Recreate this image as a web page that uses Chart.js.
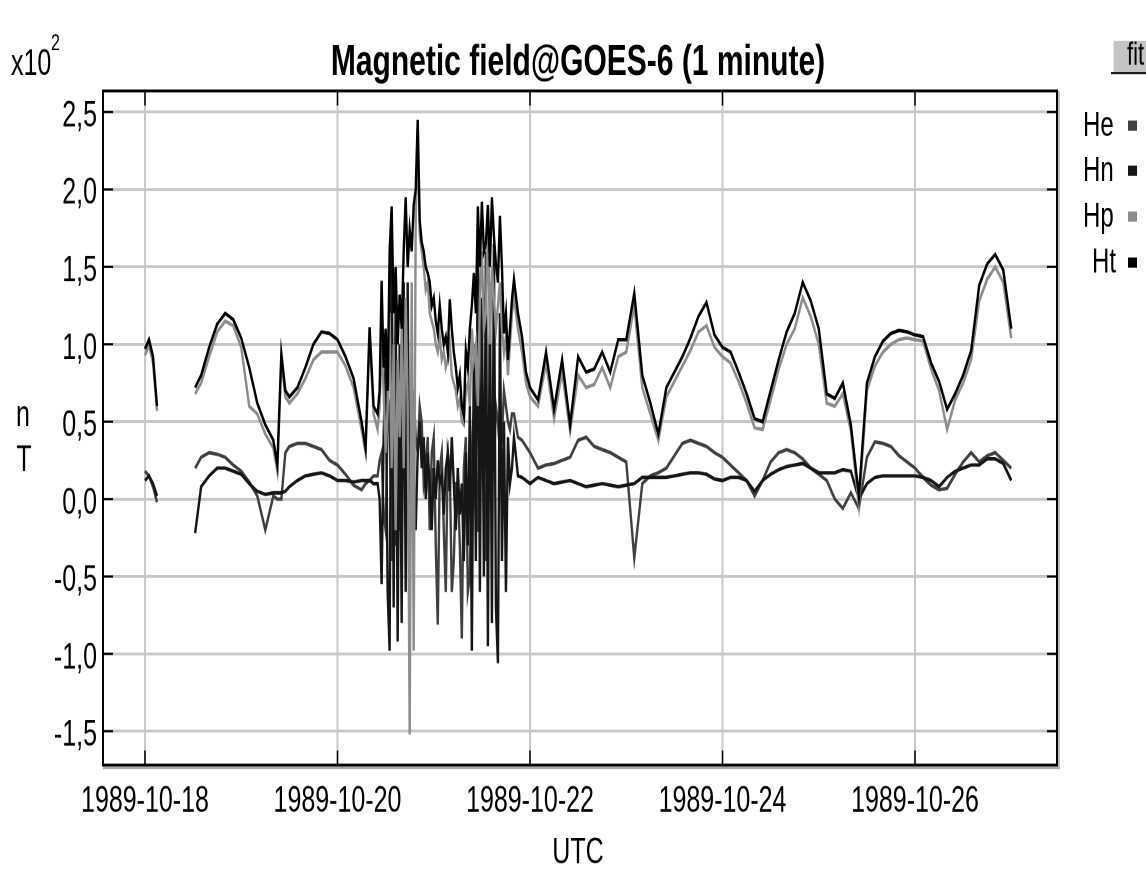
<!DOCTYPE html>
<html>
<head>
<meta charset="utf-8">
<title>Magnetic field@GOES-6 (1 minute)</title>
<script src="https://cdn.jsdelivr.net/npm/chart.js@4.4.1/dist/chart.umd.min.js"></script>
<style>
  html, body { margin: 0; padding: 0; background: #fff; }
  #pagina { width: 1146px; height: 872px; overflow: hidden; position: relative; }
  #wrap { position: absolute; left: 0; top: 0; width: 1146px; height: 600px; transform: scaleY(1.45333); transform-origin: 0 0; }
</style>
</head>
<body>
<div id="pagina"><div id="wrap"><canvas id="graf" width="1146" height="600"></canvas></div></div>
<script>

// horas desde 1989-10-18 00:00 UTC (null = falha nos dados)
var horas = [0, 1, 2, 3, 8, 12.5, 14, 16, 18, 20, 22, 24, 26, 28, 30, 32, 33, 34, 35,
    36, 38, 40, 42, 44, 46, 48, 50, 52, 54, 55, 56, 57,
    58, 58.5, 59, 59.5, 60, 60.5, 61, 61.5, 62, 62.5, 63, 63.5, 64, 64.5, 65, 65.5, 66, 66.5, 67, 67.5,
    68, 68.5, 69, 69.5, 70, 70.5, 71, 71.5, 72, 72.5, 73, 73.5, 74, 74.5, 75, 75.5, 76, 76.5, 77, 77.5,
    78, 78.5, 79, 79.5, 80, 80.5, 81, 81.5, 82, 82.5, 83, 83.5, 84, 84.5, 85, 85.5, 86, 86.5, 87, 87.5,
    88, 88.5, 89, 89.5, 90, 90.5, 91, 91.5, 92, 93, 94, 95, 96,
    98, 100, 102, 104, 106, 108, 110, 112, 114, 116, 118, 120, 122, 124, 126, 128, 130,
    132, 134, 136, 138, 140, 142, 144, 146, 148, 150, 152, 154, 156, 158, 160, 162, 164,
    166, 168, 170, 172, 174, 176, 178, 180, 182, 184, 186, 188, 190, 192, 194, 196, 198,
    200, 202, 204, 206, 208, 210, 212, 214, 216]

// nT
var he = [18, 15, 8, -2, null, 20, 27, 30, 29, 27, 22, 18, 11, 2, -20, 2, 0, 0, 30,
    34, 36, 36, 34, 32, 25, 22, 16, 9, 6, 10, 12, 15,
    15, 25, 30, -10, -20, 50, 60, -40, 70, -30, 60, -20, 40, 80, 90, -10, 50, 20, 70, 40,
    30, 60, 50, 10, 20, 40, -20, 30, 40, -30, -81, 20, 30, -20, -60, 30, 20, -60, -40, 10,
    10, -30, -90, 20, 40, -60, -50, 30, 60, -20, -20, 50, 80, 30, -40, 40, 60, 20, 20, 60,
    50, 30, 40, 70, 60, 50, 45, 55, 55, 40, 38, 34, 30,
    20, 22, 23, 25, 27, 38, 40, 34, 32, 30, 27, 24, -38, 10, 15, 17, 20,
    28, 36, 38, 36, 34, 30, 27, 22, 17, 12, 2, 12, 24, 30, 32, 30, 26,
    20, 16, 12, 0, -6, 4, -6, 27, 37, 36, 34, 28, 24, 20, 14, 9, 6,
    7, 16, 24, 30, 24, 28, 30, 25, 20]

var hn = [12, 15, 10, 2, null, -22, 8, 15, 20, 20, 18, 16, 10, 5, 3, 4, 4, 4, 5,
    8, 12, 15, 16, 17, 15, 12, 12, 11, 12, 12, 12, 10,
    10, 0, -55, 40, 90, -60, -98, 180, -70, 130, -92, 100, -80, 140, -60, 140, -40, 60, 10, -20,
    30, 50, 20, 40, 0, 30, 10, -20, 20, 0, 25, 10, 15, -10, 20, 30, 5, 40, 10, -20,
    20, -10, 10, -40, 30, -30, 60, -98, 100, -40, 180, -60, 130, -50, 160, -95, 140, -80, 165, -70,
    -106, 120, -40, 50, -60, 40, 10, 20, 40, 15, 14, 12, 10,
    14, 12, 10, 11, 12, 10, 8, 9, 10, 9, 8, 9, 10, 14, 14, 14, 14,
    15, 16, 17, 17, 16, 13, 12, 14, 14, 12, 5, 12, 16, 19, 21, 22, 23,
    20, 17, 17, 17, 19, 18, 0, 10, 14, 15, 15, 15, 15, 15, 14, 12, 8,
    14, 18, 20, 22, 22, 26, 26, 23, 12]

var hp = [93, 99, 88, 57, null, 68, 75, 92, 108, 115, 112, 98, 60, 55, 42, 33, 18, 90, 66,
    62, 68, 78, 90, 95, 95, 95, 86, 72, 45, 30, 105, 55,
    45, 60, 100, 70, 30, 60, 120, 20, 100, -20, 90, 40, 110, 20, 130, 60, -152, 140, -98, 180,
    242, 170, 160, 150, 135, 140, 120, 115, 110, 100, 95, 105, 90, 95, 85, 90, 100, 80, 75, 70,
    60, 65, 50, 48, 70, 75, 60, 110, 90, 100, 60, 130, 160, 110, 120, 185, 100, 150, 130, 110,
    125, 140, 110, 95, 105, 80, 100, 120, 130, 110, 95, 75, 66,
    60, 88, 52, 82, 44, 80, 72, 74, 85, 72, 92, 95, 125, 72, 55, 38, 66,
    76, 86, 96, 108, 112, 98, 92, 88, 76, 62, 46, 45, 64, 84, 100, 110, 130,
    118, 100, 62, 60, 68, 44, -4, 70, 86, 95, 100, 103, 104, 103, 102, 84, 70,
    45, 64, 75, 90, 128, 142, 150, 140, 104]

var ht = [97, 103, 92, 60, null, 72, 80, 98, 113, 120, 116, 104, 85, 62, 48, 38, 22, 94, 70,
    66, 72, 85, 100, 108, 107, 103, 92, 78, 50, 33, 111, 60,
    55, 70, 141, 85, 110, 70, 160, 189, 120, 150, 100, 132, 110, 160, 195, 150, 174, 160, 190, 200,
    245, 180, 166, 160, 150, 146, 140, 125, 130, 115, 107, 125, 110, 100, 105, 95, 129, 110, 95, 85,
    72, 80, 60, 54, 96, 85, 110, 125, 146, 120, 189, 150, 192, 160, 165, 190, 150, 195, 170, 152,
    140, 183, 150, 107, 120, 90, 110, 129, 142, 120, 105, 82, 72,
    64, 95, 58, 90, 48, 92, 82, 84, 95, 82, 103, 103, 133, 80, 62, 42, 72,
    82, 92, 104, 118, 127, 106, 98, 95, 82, 68, 52, 50, 70, 90, 108, 120, 140,
    128, 110, 68, 65, 75, 48, 2, 75, 92, 102, 107, 109, 108, 106, 105, 88, 76,
    58, 68, 80, 96, 138, 152, 158, 148, 110]

var ticksX = [0, 48, 96, 144, 192]
var ticksY = [-150, -100, -50, 0, 50, 100, 150, 200, 250]

var nomes = ['He', 'Hn', 'Hp', 'Ht']
var cores = ['#404040', '#161616', '#8c8c8c', '#000000']

var fonte = "'Liberation Sans', Arial, sans-serif"

/**
 * @description: junta horas e valores em pontos {x,y}
*/
function pontos(valores){
    return horas.map(function(h, i){
        return { x: h, y: valores[i] }
    })
}

/**
 * @description: moldura, marcas internas, titulo, legenda e botao
*/
var decoracao = {
    id: 'decoracao',
    afterDraw: function(chart){
        var ctx = chart.ctx
        var area = chart.chartArea
        var sx = chart.scales.x
        var sy = chart.scales.y

        ctx.save()

        // sombra da moldura
        ctx.strokeStyle = '#a8a8a8'
        ctx.lineWidth = 1.5
        ctx.beginPath()
        ctx.moveTo(area.left, area.bottom + 2)
        ctx.lineTo(area.right + 2, area.bottom + 2)
        ctx.lineTo(area.right + 2, area.top)
        ctx.stroke()

        ctx.strokeStyle = '#000'
        ctx.lineWidth = 2
        ctx.strokeRect(area.left, area.top, area.right - area.left, area.bottom - area.top)

        ctx.lineWidth = 1.5
        ctx.beginPath()
        ticksX.forEach(function(v){
            var px = sx.getPixelForValue(v)
            ctx.moveTo(px, area.top)
            ctx.lineTo(px, area.top + 10)
            ctx.moveTo(px, area.bottom)
            ctx.lineTo(px, area.bottom - 10)
        })
        ticksY.forEach(function(v){
            var py = sy.getPixelForValue(v)
            ctx.moveTo(area.left, py)
            ctx.lineTo(area.left + 10, py)
            ctx.moveTo(area.right, py)
            ctx.lineTo(area.right - 10, py)
        })
        ctx.stroke()

        ctx.fillStyle = '#000'
        ctx.textBaseline = 'alphabetic'

        ctx.font = 'bold 30px ' + fonte
        ctx.textAlign = 'center'
        ctx.fillText('Magnetic field@GOES-6 (1 minute)', 578, 51.6)

        ctx.font = '25px ' + fonte
        ctx.fillText('UTC', 578, 594)
        ctx.textBaseline = 'middle'
        ctx.fillText('n', 23, 286)
        ctx.fillText('T', 24, 317)

        ctx.textAlign = 'left'
        ctx.textBaseline = 'alphabetic'
        ctx.fillText('x10', 11, 51.6)
        ctx.font = '16px ' + fonte
        ctx.fillText('2', 51, 34.4)

        // legenda
        var yLeg = [86.7, 117.7, 149.3, 181]
        var xLeg = [1083, 1083, 1083, 1092]
        ctx.font = '24px ' + fonte
        ctx.textBaseline = 'middle'
        nomes.forEach(function(n, i){
            ctx.fillStyle = '#000'
            ctx.fillText(n, xLeg[i], yLeg[i])
            ctx.fillStyle = cores[i]
            ctx.fillRect(1128, yLeg[i] - 3.8, 9, 7)
        })

        // botao fit
        ctx.fillStyle = '#c4c4c4'
        ctx.fillRect(1112, 28, 40, 21.5)
        ctx.fillStyle = '#ffffff'
        ctx.fillRect(1112, 28, 1.5, 21.5)
        ctx.fillStyle = '#202020'
        ctx.fillRect(1111, 49.5, 40, 1.6)
        ctx.fillStyle = '#000'
        ctx.font = '22px ' + fonte
        ctx.textAlign = 'left'
        ctx.textBaseline = 'alphabetic'
        ctx.fillText('fit', 1127, 44.7)

        ctx.restore()
    }
}

/**
 * @description: gera o grafico
*/
function gerarGrafico(){
    var series = [he, hn, hp, ht]
    var datasets = series.map(function(s, i){
        return {
            label: nomes[i],
            data: pontos(s),
            borderColor: cores[i],
            backgroundColor: cores[i],
            borderWidth: 2.4,
            pointRadius: 0,
            tension: 0,
            spanGaps: false,
            order: 4 - i
        }
    })

    new Chart(document.getElementById('graf').getContext('2d'), {
        type: 'line',
        data: { datasets: datasets },
        plugins: [decoracao],
        options: {
            responsive: false,
            devicePixelRatio: 2,
            animation: false,
            layout: { padding: { top: 62.6, left: 0, right: 89, bottom: 0 } },
            plugins: {
                legend: { display: false },
                title: { display: false },
                tooltip: { enabled: false }
            },
            scales: {
                x: {
                    type: 'linear',
                    min: -10.47,
                    max: 227.4,
                    afterFit: function(s){ s.height = 73.6 },
                    afterBuildTicks: function(s){
                        s.ticks = ticksX.map(function(v){ return { value: v } })
                    },
                    grid: { color: '#c8c8c8', lineWidth: 2, drawTicks: false },
                    border: { display: false },
                    ticks: {
                        padding: 10,
                        maxRotation: 0,
                        autoSkip: false,
                        color: '#000',
                        font: { family: fonte, size: 25 },
                        callback: function(v){ return '1989-10-' + (18 + v / 24) }
                    }
                },
                y: {
                    type: 'linear',
                    min: -171.8,
                    max: 263.6,
                    afterFit: function(s){ s.width = 103 },
                    afterBuildTicks: function(s){
                        s.ticks = ticksY.map(function(v){ return { value: v } })
                    },
                    grid: { color: '#c8c8c8', lineWidth: 2, drawTicks: false },
                    border: { display: false },
                    ticks: {
                        padding: 6,
                        labelOffset: 3,
                        autoSkip: false,
                        color: '#000',
                        font: { family: fonte, size: 25 },
                        callback: function(v){ return (v / 100).toFixed(1).replace('.', ',') }
                    }
                }
            }
        }
    })
}

gerarGrafico()
</script>
</body>
</html>
